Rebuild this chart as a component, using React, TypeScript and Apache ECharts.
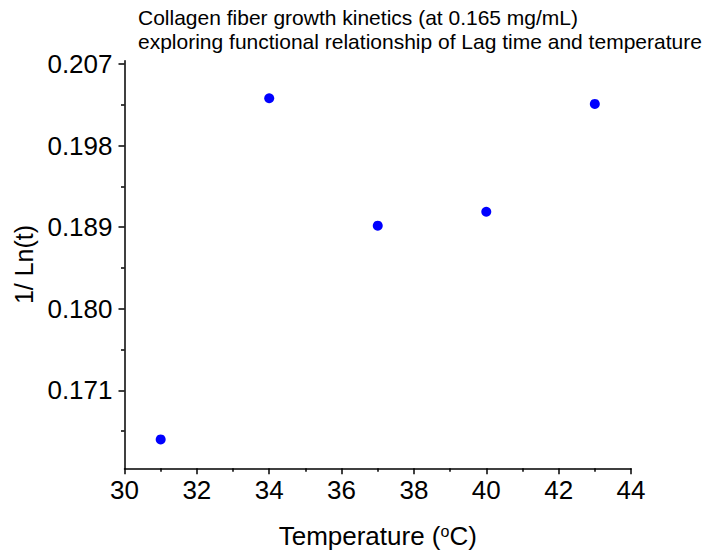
import React, { useEffect, useRef } from "react";
import * as echarts from "echarts";

const temperatures = [31, 34, 37, 40, 43];
const invLnT = [0.16559, 0.20322, 0.18916, 0.1907, 0.20259];
const yMajorTicks = [0.171, 0.18, 0.189, 0.198, 0.207];
const yMinorTicks = [0.1665, 0.1755, 0.1845, 0.1935, 0.2025];
const titleLines = [
  "Collagen fiber growth kinetics (at 0.165 mg/mL)",
  "exploring functional relationship of Lag time and temperature",
];

const FONT = "'Liberation Sans', Arial, sans-serif";

export default function App() {
  const ref = useRef<HTMLDivElement>(null);
  useEffect(() => {
    if (!ref.current) return;
    const chart = echarts.init(ref.current, null, { renderer: "svg" });
    const yMin = 0.1624;
    const yMax = 0.20736;
    chart.setOption({
      animation: false,
      backgroundColor: "#ffffff",
      textStyle: { fontFamily: FONT },
      title: {
        text: titleLines.join("\n"),
        left: 133,
        top: 0,
        textStyle: {
          fontFamily: FONT,
          fontSize: 21,
          lineHeight: 24,
          fontWeight: "normal",
          color: "#000",
        },
      },
      grid: { left: 124.5, right: 76, top: 60.7, bottom: 89.7, containLabel: false },
      xAxis: {
        type: "value",
        min: 30,
        max: 44,
        interval: 2,
        name: "Temperature ({sup|o}C)",
        nameLocation: "middle",
        nameGap: 55,
        nameTextStyle: {
          fontFamily: FONT,
          fontSize: 26,
          color: "#000",
          rich: {
            sup: { fontSize: 16, verticalAlign: "top", fontFamily: FONT, color: "#000", padding: [0, 0, 8, 0] },
          },
        },
        axisLine: { show: true, lineStyle: { color: "#000", width: 1.5 } },
        axisTick: { show: true, inside: false, length: 6, lineStyle: { color: "#000", width: 1.5 } },
        minorTick: { show: true, splitNumber: 2, length: 3.5, lineStyle: { color: "#000", width: 1.5 } },
        axisLabel: { fontFamily: FONT, fontSize: 26, color: "#000", margin: 9 },
        splitLine: { show: false },
      },
      yAxis: [
        {
          type: "value",
          min: yMin,
          max: yMax,
          position: "left",
          name: "1/ Ln(t)",
          nameLocation: "middle",
          nameGap: 86,
          nameTextStyle: { fontFamily: FONT, fontSize: 25, color: "#000" },
          axisLine: { show: true, lineStyle: { color: "#000", width: 1.5 } },
          axisTick: {
            show: true,
            inside: false,
            length: 6,
            customValues: yMajorTicks,
            lineStyle: { color: "#000", width: 1.5 },
          },
          axisLabel: {
            fontFamily: FONT,
            fontSize: 26,
            color: "#000",
            margin: 12,
            customValues: yMajorTicks,
            formatter: (v: number) => v.toFixed(3),
          },
          splitLine: { show: false },
        },
        {
          type: "value",
          min: yMin,
          max: yMax,
          position: "left",
          axisLine: { show: false },
          axisTick: {
            show: true,
            inside: false,
            length: 3.5,
            customValues: yMinorTicks,
            lineStyle: { color: "#000", width: 1.5 },
          },
          axisLabel: { show: false },
          splitLine: { show: false },
        },
      ],
      series: [
        {
          type: "scatter",
          yAxisIndex: 0,
          symbol: "circle",
          symbolSize: 10,
          itemStyle: { color: "#0000ff", opacity: 1 },
          data: temperatures.map((t, i) => [t, invLnT[i]]),
        },
      ],
    });
    return () => chart.dispose();
  }, []);
  return <div ref={ref} style={{ width: 707, height: 558, position: "absolute", left: 0, top: 0 }} />;
}
